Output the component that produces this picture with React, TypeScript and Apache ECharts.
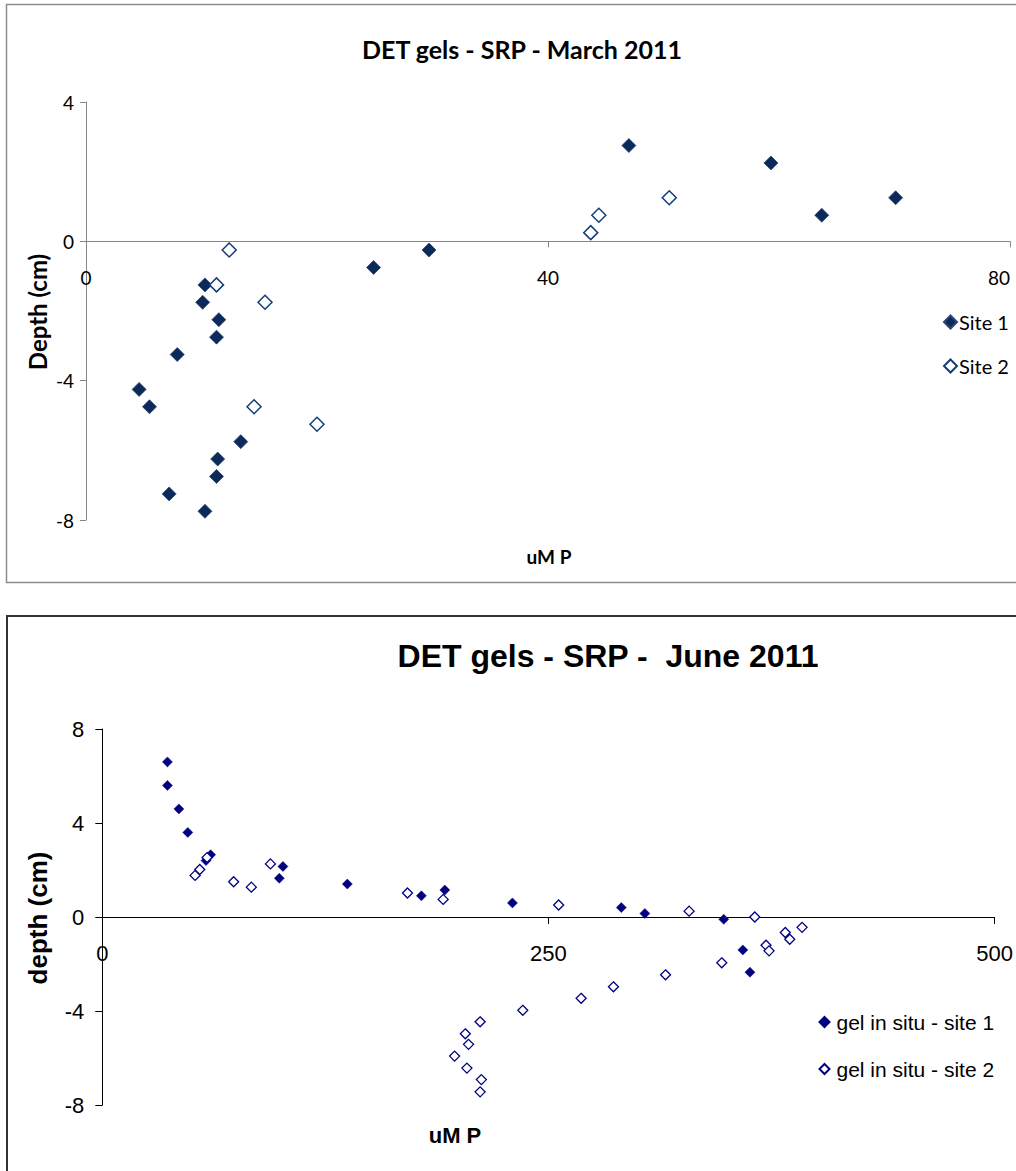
import React, { useEffect, useRef } from "react";
import * as echarts from "echarts";

// ---- March 2011 (top chart) ----
const marchTicksX = [0, 40, 80];
const marchTicksY = [-8, -4, 0, 4];
const marchSite1Um = [47.0, 59.3, 70.1, 63.7, 29.7, 24.9, 10.3, 10.1, 11.5, 11.3, 7.9, 4.6, 5.5, 13.4, 11.4, 11.3, 7.2, 10.3];
const marchSite1Depth = [2.75, 2.25, 1.25, 0.75, -0.25, -0.75, -1.25, -1.75, -2.25, -2.75, -3.25, -4.25, -4.75, -5.75, -6.25, -6.75, -7.25, -7.75];
const marchSite2Um = [44.4, 43.7, 50.5, 12.4, 11.3, 15.5, 14.55, 20.0];
const marchSite2Depth = [0.75, 0.25, 1.25, -0.25, -1.25, -1.75, -4.75, -5.25];

// ---- June 2011 (bottom chart) ----
const juneTicksX = [0, 250, 500];
const juneTicksY = [-8, -4, 0, 4, 8];
const juneSite1Um = [36.5, 36.5, 42.9, 47.9, 60.7, 58.1, 101.2, 99.2, 137.3, 178.8, 191.9, 229.8, 290.8, 304.0, 348.2, 358.9, 362.9];
const juneSite1Depth = [6.6, 5.6, 4.6, 3.6, 2.65, 2.4, 2.15, 1.65, 1.4, 0.9, 1.15, 0.6, 0.4, 0.15, -0.1, -1.4, -2.35];
const juneSite2Um = [52.0, 54.6, 58.7, 73.6, 83.5, 94.2, 171.0, 191.0, 255.7, 328.8, 365.6, 392.1, 382.7, 385.2, 371.9, 373.6, 347.1, 315.6, 286.4, 268.3, 235.6, 211.7, 203.4, 205.2, 197.4, 204.3, 212.4, 211.7];
const juneSite2Depth = [1.77, 2.02, 2.53, 1.5, 1.27, 2.26, 1.02, 0.75, 0.51, 0.25, 0.0, -0.44, -0.66, -0.95, -1.2, -1.44, -1.95, -2.46, -2.97, -3.46, -3.97, -4.46, -4.97, -5.42, -5.92, -6.43, -6.92, -7.44];

const marchNames = ["Site 1", "Site 2"];
const juneNames = ["gel in situ - site 1", "gel in situ - site 2"];

const zip = (xs: number[], ys: number[]) => xs.map((x, i) => [x, ys[i]]);

const CAL = "Lato, 'Open Sans', sans-serif";
const ARIAL = "'Liberation Sans', Arial, sans-serif";

const TOP_GRID = { left: 86, top: 102, width: 924, height: 418 };
const BOT_GRID = { left: 102.3, top: 729, width: 899, height: 376 };

// distance (px) from the grid's bottom edge up to the y = 0 line
const zeroOffset = (ticks: number[], h: number) => {
  const min = ticks[0];
  const max = ticks[ticks.length - 1];
  return ((0 - min) / (max - min)) * h;
};

export default function App() {
  const ref = useRef<HTMLDivElement>(null);
  useEffect(() => {
    if (!ref.current) return;
    const chart = echarts.init(ref.current, null, { renderer: "svg" });
    const gray = "#868686";
    const option: any = {
      animation: false,
      backgroundColor: "#ffffff",
      grid: [TOP_GRID, BOT_GRID],
      xAxis: [
        {
          gridIndex: 0,
          type: "value",
          position: "bottom",
          offset: -zeroOffset(marchTicksY, TOP_GRID.height),
          min: marchTicksX[0],
          max: marchTicksX[marchTicksX.length - 1],
          interval: marchTicksX[1] - marchTicksX[0],
          axisLine: { onZero: false, lineStyle: { color: gray, width: 1 } },
          axisTick: { show: true, length: 6, lineStyle: { color: gray } },
          axisLabel: { margin: 27, fontSize: 19, fontFamily: CAL, color: "#000", alignMaxLabel: "right" },
          splitLine: { show: false },
        },
        {
          gridIndex: 1,
          type: "value",
          position: "bottom",
          offset: -zeroOffset(juneTicksY, BOT_GRID.height),
          min: juneTicksX[0],
          max: juneTicksX[juneTicksX.length - 1],
          interval: juneTicksX[1] - juneTicksX[0],
          axisLine: { onZero: false, lineStyle: { color: "#000", width: 1 } },
          axisTick: { show: true, length: 7, lineStyle: { color: "#000" } },
          axisLabel: { margin: 25, fontSize: 22, fontFamily: ARIAL, color: "#000" },
          splitLine: { show: false },
        },
      ],
      yAxis: [
        {
          gridIndex: 0,
          type: "value",
          min: marchTicksY[0],
          max: marchTicksY[marchTicksY.length - 1],
          interval: marchTicksY[1] - marchTicksY[0],
          axisLine: { show: true, onZero: false, lineStyle: { color: gray, width: 1 } },
          axisTick: { show: true, length: 6, lineStyle: { color: gray } },
          axisLabel: { margin: 12, fontSize: 19, fontFamily: CAL, color: "#000" },
          splitLine: { show: false },
        },
        {
          gridIndex: 1,
          type: "value",
          min: juneTicksY[0],
          max: juneTicksY[juneTicksY.length - 1],
          interval: juneTicksY[1] - juneTicksY[0],
          axisLine: { show: true, onZero: false, lineStyle: { color: "#000", width: 1 } },
          axisTick: { show: true, length: 7, lineStyle: { color: "#000" } },
          axisLabel: { margin: 18, fontSize: 22, fontFamily: ARIAL, color: "#000" },
          splitLine: { show: false },
        },
      ],
      legend: [
        {
          data: marchNames,
          orient: "vertical",
          left: 943,
          top: 311,
          itemWidth: 13,
          itemHeight: 13,
          itemGap: 22,
          padding: 0,
          textStyle: { fontSize: 20, fontFamily: CAL, color: "#000", lineHeight: 22, padding: [0, 0, 0, -3] },
        },
        {
          data: juneNames,
          orient: "vertical",
          left: 818.5,
          top: 1010,
          itemWidth: 10,
          itemHeight: 10,
          itemGap: 23,
          padding: 0,
          textStyle: { fontSize: 21, fontFamily: ARIAL, color: "#000", lineHeight: 24, padding: [0, 0, 0, 2] },
        },
      ],
      series: [
        {
          name: marchNames[0],
          type: "scatter",
          xAxisIndex: 0,
          yAxisIndex: 0,
          symbol: "diamond",
          symbolSize: 14,
          itemStyle: { color: "#0B2A5A", borderColor: "#2E4475", borderWidth: 0.8, opacity: 1 },
          data: zip(marchSite1Um, marchSite1Depth),
        },
        {
          name: marchNames[1],
          type: "scatter",
          xAxisIndex: 0,
          yAxisIndex: 0,
          symbol: "diamond",
          symbolSize: 14,
          itemStyle: { color: "#ffffff", borderColor: "#143E78", borderWidth: 1.5, opacity: 1 },
          data: zip(marchSite2Um, marchSite2Depth),
        },
        {
          name: juneNames[0],
          type: "scatter",
          xAxisIndex: 1,
          yAxisIndex: 1,
          symbol: "diamond",
          symbolSize: 10,
          itemStyle: { color: "#000080", borderColor: "#000080", borderWidth: 0.5, opacity: 1 },
          data: zip(juneSite1Um, juneSite1Depth),
        },
        {
          name: juneNames[1],
          type: "scatter",
          xAxisIndex: 1,
          yAxisIndex: 1,
          symbol: "diamond",
          symbolSize: 10,
          itemStyle: { color: "#ffffff", borderColor: "#000080", borderWidth: 1.3, opacity: 1 },
          data: zip(juneSite2Um, juneSite2Depth),
        },
      ],
      graphic: [
        {
          type: "rect",
          shape: { x: 6.5, y: 4.5, width: 1030, height: 578 },
          style: { fill: "none", stroke: "#8c8c8c", lineWidth: 1.5 },
          z: -10,
        },
        {
          type: "rect",
          shape: { x: 7, y: 616, width: 1030, height: 620 },
          style: { fill: "none", stroke: "#333333", lineWidth: 2 },
          z: -10,
        },
        {
          type: "text",
          x: 522,
          y: 49,
          style: {
            text: "DET gels - SRP - March 2011",
            fontSize: 25,
            fontWeight: "bold",
            fontFamily: CAL,
            fill: "#000",
            textAlign: "center",
            textVerticalAlign: "middle",
          },
        },
        {
          type: "text",
          x: 37,
          y: 312,
          rotation: Math.PI / 2,
          style: {
            text: "Depth (cm)",
            fontSize: 24,
            fontWeight: "bold",
            fontFamily: CAL,
            fill: "#000",
            textAlign: "center",
            textVerticalAlign: "middle",
          },
        },
        {
          type: "text",
          x: 549,
          y: 556,
          style: {
            text: "uM P",
            fontSize: 19,
            fontWeight: "bold",
            fontFamily: CAL,
            fill: "#000",
            textAlign: "center",
            textVerticalAlign: "middle",
          },
        },
        {
          type: "text",
          x: 608,
          y: 656,
          style: {
            text: "DET gels - SRP -  June 2011",
            fontSize: 32,
            fontWeight: "bold",
            fontFamily: ARIAL,
            fill: "#000",
            textAlign: "center",
            textVerticalAlign: "middle",
          },
        },
        {
          type: "text",
          x: 38,
          y: 918,
          rotation: Math.PI / 2,
          style: {
            text: "depth (cm)",
            fontSize: 26,
            fontWeight: "bold",
            fontFamily: ARIAL,
            fill: "#000",
            textAlign: "center",
            textVerticalAlign: "middle",
          },
        },
        {
          type: "text",
          x: 455,
          y: 1135,
          style: {
            text: "uM P",
            fontSize: 22,
            fontWeight: "bold",
            fontFamily: ARIAL,
            fill: "#000",
            textAlign: "center",
            textVerticalAlign: "middle",
          },
        },
      ],
    };
    chart.setOption(option);
    return () => chart.dispose();
  }, []);
  return (
    <div
      ref={ref}
      style={{ position: "absolute", left: 0, top: 0, width: 1016, height: 1171, background: "#fff" }}
    />
  );
}
